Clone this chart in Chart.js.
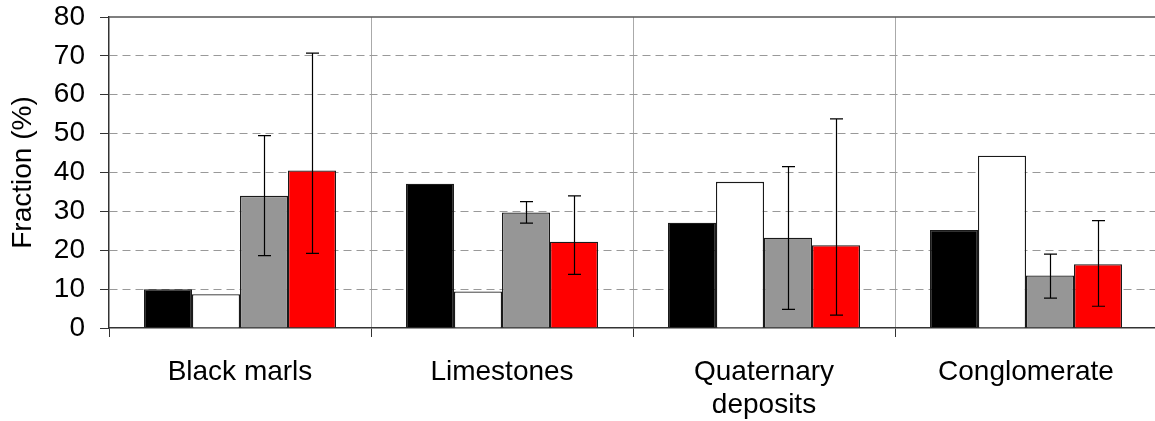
<!DOCTYPE html>
<html>
<head>
<meta charset="utf-8">
<script src="https://cdn.jsdelivr.net/npm/chart.js@4"></script>
<style>
  html, body { margin: 0; padding: 0; background: #fff; overflow: hidden; }
  #wrap { width: 1157px; height: 421px; }
</style>
</head>
<body>
<div id="wrap"><canvas id="fractionChart" width="1157" height="421"></canvas></div>
<script>
// Rock types on the x axis
const categories = [['Black marls'], ['Limestones'], ['Quaternary', 'deposits'], ['Conglomerate']];

// Bar values (%)
const blackValues = [10.0, 37.1, 27.1, 25.2];
const whiteValues = [8.7, 9.4, 37.6, 44.3];
const grayValues = [34.0, 29.7, 23.2, 13.5];
const redValues = [40.5, 22.2, 21.3, 16.4];

// Error bar ranges (low / high) for gray and red series
const grayLow = [18.6, 27.0, 4.8, 7.7];
const grayHigh = [49.5, 32.5, 41.5, 19.0];
const redLow = [19.2, 13.8, 3.3, 5.6];
const redHigh = [70.7, 34.0, 53.8, 27.6];

// y axis
const yMin = 0;
const yMax = 80;
const yStep = 10;

const fontFamily = '"Liberation Sans", Arial, sans-serif';

// Draw error bars + solid top border of the plot area
const errorBarPlugin = {
    id: 'errorBars',
    afterDatasetsDraw(chart) {
        const ctx = chart.ctx;
        const yScale = chart.scales.y;
        const ranges = [
            { dataset: 2, low: grayLow, high: grayHigh },
            { dataset: 3, low: redLow, high: redHigh }
        ];
        ctx.save();
        ctx.strokeStyle = '#000';
        ctx.lineWidth = 1.2;
        ranges.forEach(r => {
            const meta = chart.getDatasetMeta(r.dataset);
            meta.data.forEach((bar, i) => {
                const x = Math.round(bar.x) + 0.5;
                const yLo = yScale.getPixelForValue(r.low[i]);
                const yHi = yScale.getPixelForValue(r.high[i]);
                ctx.beginPath();
                ctx.moveTo(x, yLo);
                ctx.lineTo(x, yHi);
                ctx.moveTo(x - 6.5, yLo);
                ctx.lineTo(x + 6.5, yLo);
                ctx.moveTo(x - 6.5, yHi);
                ctx.lineTo(x + 6.5, yHi);
                ctx.stroke();
            });
        });
        ctx.restore();
    },
    beforeDatasetsDraw(chart) {
        const ctx = chart.ctx;
        const area = chart.chartArea;
        ctx.save();
        ctx.strokeStyle = '#555';
        ctx.lineWidth = 1.5;
        ctx.beginPath();
        ctx.moveTo(area.left, area.top);
        ctx.lineTo(area.right, area.top);
        ctx.stroke();
        ctx.restore();
    }
};

function makeDataset(label, values, color) {
    return {
        label: label,
        data: values,
        backgroundColor: color,
        borderColor: '#1a1a1a',
        borderWidth: 1.3,
        categoryPercentage: 0.733,
        barPercentage: 1.0
    };
}

const ctx = document.getElementById('fractionChart').getContext('2d');
const fractionChart = new Chart(ctx, {
    type: 'bar',
    data: {
        labels: categories,
        datasets: [
            makeDataset('black', blackValues, '#000000'),
            makeDataset('white', whiteValues, '#ffffff'),
            makeDataset('gray', grayValues, '#969696'),
            makeDataset('red', redValues, '#ff0000')
        ]
    },
    options: {
        responsive: false,
        animation: false,
        layout: { padding: { top: 0, left: 0, right: 0, bottom: 0 } },
        plugins: {
            legend: { display: false },
            tooltip: { enabled: false }
        },
        scales: {
            x: {
                grid: {
                    offset: true,
                    color: c => c.index === 0 ? 'rgba(0,0,0,0)' : '#aaaaaa',
                    lineWidth: 1,
                    tickColor: '#333',
                    tickLength: 9
                },
                border: { display: true, color: '#333', width: 1.5 },
                ticks: {
                    color: '#000',
                    font: { family: fontFamily, size: 28, lineHeight: 1.2 },
                    padding: 18,
                    maxRotation: 0,
                    autoSkip: false
                },
                afterFit: scale => { scale.height = 93; }
            },
            y: {
                min: yMin,
                max: yMax,
                grid: {
                    color: c => (c.tick && (c.tick.value === yMax || c.tick.value === yMin)) ? 'rgba(0,0,0,0)' : '#999999',
                    lineWidth: 1,
                    tickColor: '#333',
                    tickLength: 9
                },
                border: { display: true, color: '#333', width: 1.5, dash: [8, 5] },
                ticks: {
                    stepSize: yStep,
                    color: '#000',
                    font: { family: fontFamily, size: 28 },
                    padding: 15
                },
                title: {
                    display: true,
                    text: 'Fraction (%)',
                    color: '#000',
                    font: { family: fontFamily, size: 28, lineHeight: 1.2 },
                    padding: { top: 6, bottom: 0 }
                },
                afterFit: scale => {
                    scale.width = 109;
                    scale.paddingTop = 17;
                    scale.paddingBottom = 0;
                }
            }
        }
    },
    plugins: [errorBarPlugin]
});
</script>
</body>
</html>
